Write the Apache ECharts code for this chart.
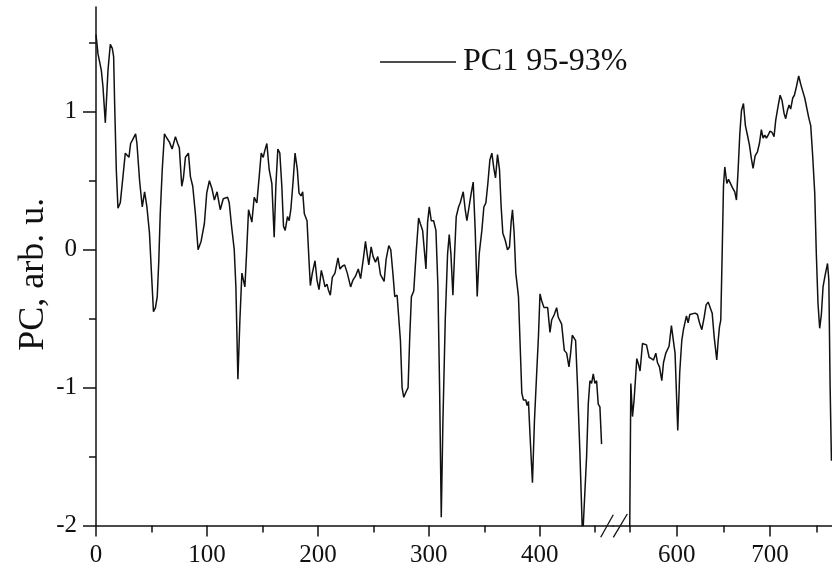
<!DOCTYPE html>
<html>
<head>
<meta charset="utf-8">
<script src="https://cdn.jsdelivr.net/npm/echarts@6/dist/echarts.min.js"></script>
<style>
html,body{margin:0;padding:0;background:#fff;}
#chart{width:832px;height:568px;}
</style>
</head>
<body>
<div id="chart"></div>
<script>
// ---- data ----
const seriesName = 'PC1 95-93%';
const xLeft = [0,1.8,4.8,6.3,8.4,10.8,12.9,14.7,15.9,16.8,18.3,19.8,21.9,24.3,26.4,28.2,29.7,31.2,33.2,35.7,36.9,39.3,41.7,43.8,45.9,48.2,50.0,51.8,53.6,55.2,56.6,57.9,59.7,61.7,63.8,66.2,68.6,71.6,73.6,75.1,77.3,78.8,80.6,83.3,85.1,87.2,89.6,92.0,94.7,97.7,99.8,102.2,104.6,106.7,109.1,112.0,114.7,118.6,120.1,122.2,124.6,126.1,127.9,129.7,131.5,132.7,134.2,135.7,137.5,138.7,140.5,142.6,144.1,145.0,147.1,148.9,150.7,152.2,154.0,156.1,158.5,160.6,162.1,163.9,165.7,167.5,169.0,170.5,172.6,174.1,175.6,177.7,179.4,181.5,183.0,184.8,186.3,187.8,190.2,192.0,193.2,195.0,197.4,199.2,201.0,203.1,204.6,206.4,208.2,209.4,211.2,213.0,215.4,218.1,219.9,222.0,224.1,226.5,229.5,231.6,234.0,236.4,238.5,240.9,242.9,244.4,245.9,248.0,249.8,251.9,254.0,256.4,257.9,259.7,261.5,263.9,265.7,267.8,269.3,271.4,272.9,274.4,275.9,277.4,279.5,281.3,282.8,284.3,286.4,288.5,290.8,292.3,294.4,297.4,298.9,300.4,302.2,304.3,306.4,308.2,309.7,311.2,312.7,314.8,316.9,318.4,319.9,321.7,323.2,324.7,326.8,328.3,329.2,331.0,332.8,334.3,335.8,338.2,340.0,341.8,343.6,345.4,347.8,349.6,351.4,353.2,355.0,356.8,358.6,360.1,361.9,363.7,365.2,366.7,368.8,370.9,372.7,374.2,375.4,376.9,378.4,380.8,382.6,383.8,385.3,387.4,388.6,389.8,391.3,393.4,395.2,397.3,398.8,400.2,401.7,403.8,405.3,407.1,409.2,410.7,413.1,415.2,416.7,419.7,422.1,424.2,426.3,427.8,429.3,430.8,432.3,434.1,436.2,438.6,440.4,442.2,443.7,445.2,446.7,448.2,449.7,451.2,452.7,454.2,455.7];
const yLeft = [1.56,1.42,1.30,1.18,0.92,1.30,1.49,1.46,1.40,1.06,0.58,0.30,0.34,0.53,0.70,0.69,0.67,0.77,0.80,0.84,0.77,0.50,0.31,0.42,0.31,0.12,-0.17,-0.45,-0.42,-0.34,-0.08,0.26,0.58,0.84,0.81,0.78,0.73,0.82,0.77,0.74,0.46,0.52,0.67,0.70,0.53,0.46,0.26,0.00,0.06,0.19,0.41,0.50,0.44,0.36,0.42,0.29,0.37,0.38,0.34,0.17,0.00,-0.27,-0.94,-0.51,-0.17,-0.16,-0.27,-0.03,0.29,0.30,0.20,0.38,0.39,0.34,0.53,0.70,0.67,0.72,0.77,0.58,0.48,0.09,0.46,0.73,0.70,0.46,0.17,0.14,0.24,0.21,0.29,0.50,0.70,0.58,0.41,0.39,0.42,0.26,0.21,-0.08,-0.26,-0.17,-0.08,-0.22,-0.29,-0.15,-0.20,-0.27,-0.25,-0.29,-0.33,-0.20,-0.17,-0.06,-0.14,-0.12,-0.11,-0.17,-0.27,-0.22,-0.19,-0.14,-0.21,-0.07,0.06,-0.03,-0.11,0.02,-0.05,-0.09,-0.05,-0.18,-0.18,-0.23,-0.07,0.03,0.00,-0.19,-0.34,-0.33,-0.34,-0.66,-1.00,-1.07,-1.03,-1.00,-0.63,-0.34,-0.30,-0.03,0.23,0.19,0.14,-0.14,0.20,0.31,0.21,0.21,0.14,-0.27,-1.00,-1.94,-1.24,-0.51,-0.03,0.11,-0.03,-0.33,-0.03,0.24,0.31,0.34,0.33,0.42,0.29,0.21,0.21,0.41,0.49,0.14,-0.34,-0.03,0.14,0.31,0.34,0.48,0.65,0.70,0.59,0.52,0.69,0.58,0.31,0.12,0.07,0.00,0.02,0.20,0.29,0.12,-0.17,-0.34,-0.76,-1.04,-1.09,-1.09,-1.13,-1.10,-1.36,-1.69,-1.24,-0.88,-0.63,-0.32,-0.37,-0.42,-0.41,-0.42,-0.60,-0.51,-0.47,-0.42,-0.49,-0.54,-0.73,-0.75,-0.85,-0.75,-0.62,-0.61,-0.66,-1.00,-1.48,-2.10,-2.10,-1.50,-1.12,-0.95,-0.97,-0.90,-0.97,-0.95,-1.12,-1.14,-1.41];
const xRight = [549.6,550.8,552.6,554.3,557.2,559.0,560.7,563.3,565.1,567.6,570.4,572.9,575.1,577.6,579.4,581.5,584.0,585.8,588.3,591.8,594.3,596.4,598.2,601.1,603.2,605.4,607.2,609.0,610.4,612.2,614.0,616.1,619.7,622.2,624.4,626.9,629.4,631.5,633.7,635.8,638.0,640.1,642.9,644.4,645.8,647.2,648.7,650.1,651.5,653.7,655.5,657.2,659.7,662.2,664.0,665.8,667.6,669.4,671.5,673.6,675.8,677.9,680.0,681.8,684.0,686.5,688.6,690.7,692.5,694.3,696.1,697.9,700.0,702.2,704.3,706.1,708.6,710.8,712.9,715.0,716.8,718.6,720.4,722.1,724.3,726.1,728.2,730.7,732.9,735.0,737.2,739.3,741.4,743.6,745.7,747.9,749.6,751.4,753.2,755.0,756.8,758.9,761.6,763.0,764.4,765.8];
const yRight = [-2.05,-0.97,-1.21,-1.09,-0.79,-0.83,-0.88,-0.68,-0.67,-0.69,-0.78,-0.79,-0.80,-0.75,-0.82,-0.85,-0.95,-0.82,-0.75,-0.70,-0.55,-0.66,-0.75,-1.31,-0.89,-0.66,-0.58,-0.57,-0.48,-0.53,-0.47,-0.46,-0.46,-0.47,-0.53,-0.58,-0.49,-0.40,-0.38,-0.39,-0.46,-0.63,-0.80,-0.66,-0.56,-0.51,-0.03,0.46,0.60,0.48,0.51,0.51,0.45,0.42,0.36,0.58,0.84,1.01,1.06,0.90,0.83,0.76,0.66,0.59,0.68,0.71,0.77,0.87,0.81,0.83,0.81,0.83,0.86,0.85,0.82,0.94,1.04,1.12,1.08,0.99,0.95,1.01,1.05,1.02,1.10,1.12,1.18,1.26,1.20,1.15,1.10,1.09,0.96,0.90,0.68,0.41,-0.03,-0.39,-0.57,-0.47,-0.27,-0.19,-0.10,-0.22,-1.00,-1.53];
const xMajorLeft = [0,100,200,300,400];
const xMinorLeft = [50,150,250,350,450];
const xMajorRight = [600,700];
const xMinorRight = [550,650,750];
const yMajor = [-2,-1,0,1];
const yMinor = [-1.5,-0.5,0.5,1.5];
const yName = 'PC, arb. u.';

// ---- chart ----
const FONT = '"Liberation Serif","Times New Roman",serif';
const INK = '#111';
const Y_MIN = -2, Y_MAX = 1.76;
const leftData = xLeft.map((x,i)=>[x,yLeft[i]]);
const rightData = xRight.map((x,i)=>[x,yRight[i]]);

function xAx(grid, min, max, ticks, tickLen, labels, showLine){
  return {
    type:'value', gridIndex:grid, min:min, max:max, position:'bottom',
    axisLine:{show:showLine, onZero:false, lineStyle:{color:INK,width:1.5}},
    axisTick:{show:true, customValues:ticks, length:tickLen, lineStyle:{color:INK,width:1.5}},
    axisLabel: labels ? {show:true, customValues:labels, color:INK, fontFamily:FONT, fontSize:25, margin:17} : {show:false},
    splitLine:{show:false}
  };
}
function yAx(grid, ticks, tickLen, labels, showLine, extra){
  return Object.assign({
    type:'value', gridIndex:grid, min:Y_MIN, max:Y_MAX, position:'left',
    axisLine:{show:showLine, onZero:false, lineStyle:{color:INK,width:1.5}},
    axisTick:{show: ticks.length>0, customValues:ticks, length:tickLen, lineStyle:{color:INK,width:1.5}},
    axisLabel: labels ? {show:true, customValues:labels, color:INK, fontFamily:FONT, fontSize:25, margin:19} : {show:false},
    splitLine:{show:false}
  }, extra||{});
}

const chart = echarts.init(document.getElementById('chart'), null, {renderer:'canvas'});
chart.setOption({
  backgroundColor:'#fff',
  animation:false,
  grid:[
    {left:96, width:517, top:7, bottom:42.5},
    {left:613, width:219, top:7, bottom:42.5}
  ],
  legend:{
    data:[seriesName], left:380, top:46, padding:0,
    icon:'rect', itemWidth:76, itemHeight:1.5,
    textStyle:{color:INK, fontFamily:FONT, fontSize:32, padding:[0,0,0,2]}
  },
  xAxis:[
    xAx(0, 0, 466, xMajorLeft, 11, xMajorLeft, true),
    xAx(0, 0, 466, xMinorLeft, 7, null, false),
    xAx(1, 531.7, 766.4, xMajorRight, 11, xMajorRight, true),
    xAx(1, 531.7, 766.4, xMinorRight, 7, null, false)
  ],
  yAxis:[
    yAx(0, yMajor, 13, yMajor, true, {
      name:yName, nameLocation:'middle', nameGap:44, nameMoveOverlap:false,
      nameTextStyle:{color:INK, fontFamily:FONT, fontSize:36, padding:[0,16,0,0]}
    }),
    yAx(0, yMinor, 7, null, false),
    yAx(1, [], 0, null, false)
  ],
  series:[
    {name:seriesName, type:'line', xAxisIndex:0, yAxisIndex:0, data:leftData,
     showSymbol:false, symbol:'none', clip:true, lineStyle:{color:INK,width:1.5}, itemStyle:{color:INK}},
    {name:seriesName, type:'line', xAxisIndex:2, yAxisIndex:2, data:rightData,
     showSymbol:false, symbol:'none', clip:true, lineStyle:{color:INK,width:1.5}, itemStyle:{color:INK}}
  ],
  graphic:[
    {type:'line', shape:{x1:600.7,y1:537.3,x2:613.3,y2:514.7}, style:{stroke:INK,lineWidth:1.3}, z:100},
    {type:'line', shape:{x1:613.3,y1:537.3,x2:627.3,y2:514.0}, style:{stroke:INK,lineWidth:1.3}, z:100}
  ]
});
</script>
</body>
</html>
